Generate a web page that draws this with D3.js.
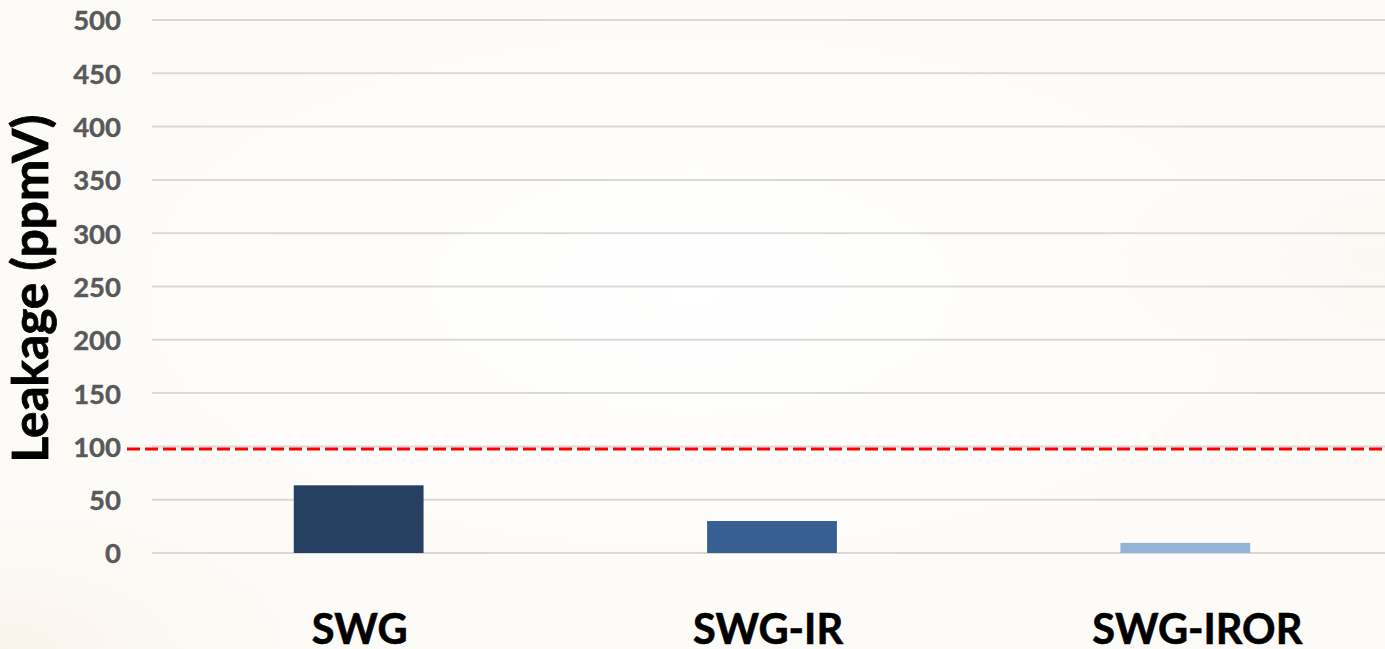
<!DOCTYPE html>
<html>
<head>
<meta charset="utf-8">
<script src="https://cdn.jsdelivr.net/npm/d3@7"></script>
<style>
  html, body { margin: 0; padding: 0; background: #fefdfb; }
  svg { display: block; }
</style>
</head>
<body>
<svg id="chart" width="1385" height="649"></svg>
<script>
// Leakage per sealing configuration (ppmV)
const categories = ["SWG", "SWG-IR", "SWG-IROR"];
const leakage = [63.5, 30, 9.5];
const barColors = ["#264061", "#366092", "#95b3d7"];
const yTicks = [0, 50, 100, 150, 200, 250, 300, 350, 400, 450, 500];
const limitValue = 97.5;

const W = 1385, H = 649;
const svg = d3.select("#chart");

// very soft warm backdrop
const defs = svg.append("defs");
const g1 = defs.append("radialGradient").attr("id", "warmLeft")
  .attr("cx", "0%").attr("cy", "100%").attr("r", "35%");
g1.append("stop").attr("offset", "0%").attr("stop-color", "#f9f1e8").attr("stop-opacity", 0.8);
g1.append("stop").attr("offset", "100%").attr("stop-color", "#fefdfb").attr("stop-opacity", 0);
const g2 = defs.append("radialGradient").attr("id", "warmRight")
  .attr("cx", "100%").attr("cy", "40%").attr("r", "30%");
g2.append("stop").attr("offset", "0%").attr("stop-color", "#fbf6f1").attr("stop-opacity", 0.7);
g2.append("stop").attr("offset", "100%").attr("stop-color", "#fefdfb").attr("stop-opacity", 0);
const g3 = defs.append("radialGradient").attr("id", "lightCenter")
  .attr("cx", "50%").attr("cy", "45%").attr("r", "50%");
g3.append("stop").attr("offset", "0%").attr("stop-color", "#ffffff").attr("stop-opacity", 1);
g3.append("stop").attr("offset", "100%").attr("stop-color", "#ffffff").attr("stop-opacity", 0);

svg.append("rect").attr("width", W).attr("height", H).attr("fill", "#fdfbf8");
svg.append("rect").attr("width", W).attr("height", H).attr("fill", "url(#warmLeft)");
svg.append("rect").attr("width", W).attr("height", H).attr("fill", "url(#warmRight)");
svg.append("rect").attr("width", W).attr("height", H).attr("fill", "url(#lightCenter)");

const plot = { left: 152, right: 1392, top: 20, bottom: 553 };

const x = d3.scaleBand()
  .domain(categories)
  .range([plot.left, plot.right])
  .paddingInner(0.686)
  .paddingOuter(0.343);

const y = d3.scaleLinear()
  .domain([0, 500])
  .range([plot.bottom, plot.top]);

// horizontal gridlines
svg.append("g")
  .selectAll("line")
  .data(yTicks)
  .join("line")
  .attr("x1", plot.left)
  .attr("x2", W)
  .attr("y1", d => y(d))
  .attr("y2", d => y(d))
  .attr("stroke", "#d9d9d9")
  .attr("stroke-width", 2);

// y tick labels
const yAxis = d3.axisLeft(y).tickValues(yTicks).tickSize(0).tickPadding(0);
const yg = svg.append("g")
  .attr("transform", `translate(121,0)`)
  .call(yAxis);
yg.select(".domain").remove();
yg.selectAll("text")
  .attr("font-family", "Lato, 'Open Sans', sans-serif")
  .attr("font-weight", "bold")
  .attr("font-size", 27.5)
  .attr("fill", "#595959")
  .attr("stroke", "#595959")
  .attr("stroke-width", 0.4)
  .attr("dy", "0.36em");

// bars
svg.append("g")
  .selectAll("rect")
  .data(categories)
  .join("rect")
  .attr("x", d => x(d))
  .attr("width", x.bandwidth())
  .attr("y", (d, i) => y(leakage[i]))
  .attr("height", (d, i) => y(0) - y(leakage[i]))
  .attr("fill", (d, i) => barColors[i]);

// limit line
svg.append("line")
  .attr("x1", 127)
  .attr("x2", W)
  .attr("y1", y(limitValue))
  .attr("y2", y(limitValue))
  .attr("stroke", "#ff0000")
  .attr("stroke-width", 3)
  .attr("stroke-dasharray", "13,5");

// category labels
const labelShift = [1, -4, 12];
svg.append("g")
  .selectAll("text")
  .data(categories)
  .join("text")
  .attr("x", (d, i) => x(d) + x.bandwidth() / 2 + labelShift[i])
  .attr("y", 644)
  .attr("text-anchor", "middle")
  .attr("font-family", "Lato, 'Open Sans', sans-serif")
  .attr("font-weight", "bold")
  .attr("font-size", 41.5)
  .attr("fill", "#000")
  .attr("stroke", "#000")
  .attr("stroke-width", 0.6)
  .text(d => d);

// y axis title
svg.append("text")
  .attr("transform", "translate(48,288.5) rotate(-90)")
  .attr("text-anchor", "middle")
  .attr("font-family", "Lato, 'Open Sans', sans-serif")
  .attr("font-weight", "bold")
  .attr("font-size", 49.5)
  .attr("fill", "#000")
  .attr("stroke", "#000")
  .attr("stroke-width", 0.8)
  .text("Leakage (ppmV)");
</script>
</body>
</html>
